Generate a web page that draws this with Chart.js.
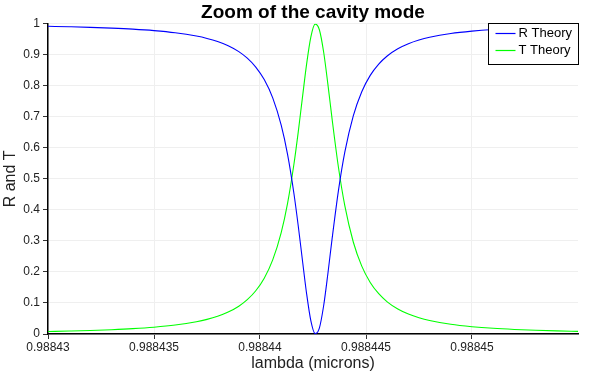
<!DOCTYPE html>
<html>
<head>
<meta charset="utf-8">
<script src="https://cdn.jsdelivr.net/npm/chart.js@4"></script>
<style>
  html, body { margin: 0; padding: 0; background: #fff; }
  #wrap { width: 589px; height: 375px; }
</style>
</head>
<body>
<div id="wrap"><canvas id="cavityChart"></canvas></div>
<script>
// длины волн (микроны)
const lambdaVals = [
    0.98843, 0.988431, 0.988432, 0.988433, 0.988434, 0.988435, 0.988436, 0.988437, 0.9884375, 0.988438,
    0.9884385, 0.988439, 0.9884394, 0.9884398, 0.9884402, 0.9884406, 0.988441, 0.9884413, 0.9884416, 0.9884418,
    0.988442, 0.9884422, 0.9884424, 0.9884426, 0.9884428, 0.988443, 0.9884432, 0.9884434, 0.9884437, 0.988444,
    0.9884444, 0.9884448, 0.9884452, 0.9884456, 0.988446, 0.9884465, 0.988447, 0.9884475, 0.988448, 0.988449,
    0.98845, 0.988451, 0.988452, 0.988453, 0.988454, 0.988455
];
// отражение
const rVals = [
    0.9919, 0.9904, 0.9886, 0.9861, 0.9828, 0.9781, 0.9712, 0.9605, 0.9529, 0.9428,
    0.9292, 0.9103, 0.8893, 0.8606, 0.8201, 0.7611, 0.6731, 0.5788, 0.4529, 0.3507,
    0.2387, 0.1291, 0.0422, 0.0012, 0.0192, 0.0902, 0.1935, 0.3066, 0.4624, 0.5861,
    0.7034, 0.7812, 0.8338, 0.8702, 0.8963, 0.9194, 0.9357, 0.9476, 0.9565, 0.9687,
    0.9764, 0.9817, 0.9853, 0.9880, 0.9900, 0.9915
];
// пропускание
const tVals = [
    0.0081, 0.0096, 0.0114, 0.0139, 0.0172, 0.0219, 0.0288, 0.0395, 0.0471, 0.0572,
    0.0708, 0.0897, 0.1107, 0.1394, 0.1799, 0.2389, 0.3269, 0.4212, 0.5471, 0.6493,
    0.7613, 0.8709, 0.9578, 0.9988, 0.9808, 0.9098, 0.8065, 0.6934, 0.5376, 0.4139,
    0.2966, 0.2188, 0.1662, 0.1298, 0.1037, 0.0806, 0.0643, 0.0524, 0.0435, 0.0313,
    0.0236, 0.0183, 0.0147, 0.0120, 0.0100, 0.0085
];

const xMin = 0.98843, xMax = 0.988455, xStep = 0.000005;
const fontName = 'Liberation Sans';

// легенда внутри графика, справа сверху
const boxLegend = {
    id: 'boxLegend',
    afterDraw(chart) {
        const ctx = chart.ctx;
        const area = chart.chartArea;
        const w = 90, h = 41;
        const left = Math.round(area.right - w) + 0.5;
        const top = Math.round(area.top - 1) + 0.5;
        ctx.save();
        ctx.fillStyle = '#fff';
        ctx.fillRect(left, top, w, h);
        ctx.strokeStyle = '#000';
        ctx.lineWidth = 1;
        ctx.strokeRect(left, top, w, h);
        ctx.font = '13px "' + fontName + '"';
        ctx.textBaseline = 'middle';
        chart.data.datasets.forEach((ds, i) => {
            const y = top + 10 + i * 17;
            ctx.strokeStyle = ds.borderColor;
            ctx.lineWidth = 1.2;
            ctx.beginPath();
            ctx.moveTo(left + 7, y);
            ctx.lineTo(left + 27, y);
            ctx.stroke();
            ctx.fillStyle = '#000';
            ctx.fillText(ds.label, left + 30, y);
        });
        ctx.restore();
    }
};

const ctx = document.getElementById('cavityChart').getContext('2d');
new Chart(ctx, {
    type: 'line',
    data: {
        datasets: [{
            label: 'R Theory',
            data: lambdaVals.map((x, i) => ({ x: x, y: rVals[i] })),
            borderColor: '#0000ff',
            borderWidth: 1.1,
            pointRadius: 0,
            cubicInterpolationMode: 'monotone'
        }, {
            label: 'T Theory',
            data: lambdaVals.map((x, i) => ({ x: x, y: tVals[i] })),
            borderColor: '#00ff00',
            borderWidth: 1.1,
            pointRadius: 0,
            cubicInterpolationMode: 'monotone'
        }]
    },
    options: {
        responsive: true,
        maintainAspectRatio: false,
        animation: false,
        layout: { padding: { left: 0, right: 11, top: 0, bottom: 0 } },
        plugins: {
            legend: { display: false },
            tooltip: { enabled: false },
            title: {
                display: true,
                text: 'Zoom of the cavity mode',
                fullSize: false,
                color: '#000',
                font: { family: fontName, size: 19, weight: 'bold' },
                padding: { top: 1, bottom: 0 }
            }
        },
        scales: {
            x: {
                type: 'linear',
                min: xMin,
                max: xMax,
                afterFit: s => { s.height = 41; },
                border: { color: '#000', width: 1.5 },
                grid: {
                    color: c => (c.tick && c.tick.value > 0.988452) ? 'rgba(0,0,0,0)' : '#efefef',
                    tickColor: c => (c.tick && c.tick.value > 0.988452) ? 'rgba(0,0,0,0)' : '#333',
                    tickLength: 5
                },
                ticks: {
                    stepSize: xStep,
                    color: '#222',
                    padding: 1,
                    maxRotation: 0,
                    font: { family: fontName, size: 12 },
                    callback: v => v > 0.988452 ? '' : parseFloat(v.toFixed(7)).toString()
                },
                title: {
                    display: true,
                    text: 'lambda (microns)',
                    color: '#222',
                    padding: { top: 0, bottom: 2 },
                    font: { family: fontName, size: 16 }
                }
            },
            y: {
                min: 0,
                max: 1,
                afterFit: s => { s.width = 48; },
                border: { color: '#000', width: 1.5 },
                grid: { color: '#efefef', tickColor: '#333', tickLength: 5 },
                ticks: {
                    stepSize: 0.1,
                    color: '#222',
                    padding: 3,
                    font: { family: fontName, size: 12 },
                    callback: v => parseFloat(v.toFixed(2)).toString()
                },
                title: {
                    display: true,
                    text: 'R and T',
                    color: '#222',
                    padding: { top: 1, bottom: 0 },
                    font: { family: fontName, size: 16 }
                }
            }
        }
    },
    plugins: [boxLegend]
});
</script>
</body>
</html>
